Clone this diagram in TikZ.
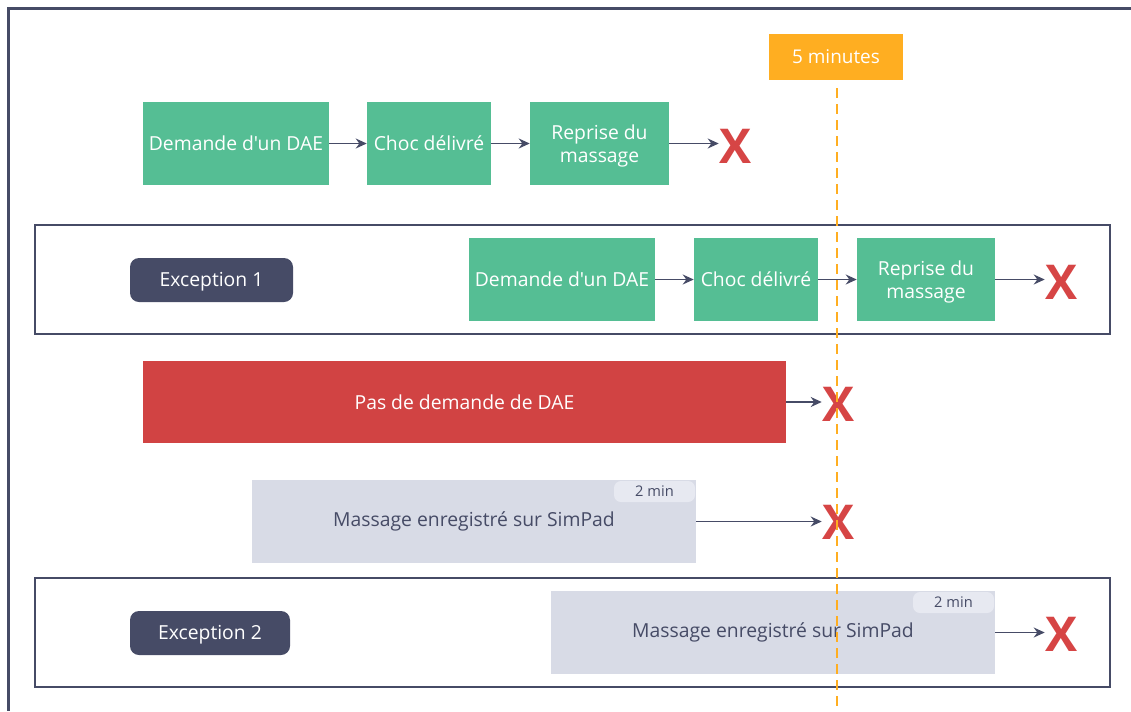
\documentclass[tikz,border=0pt]{standalone}
\usepackage{fontspec}
\setmainfont{Open Sans}[Ligatures=TeXOff]
\usetikzlibrary{arrows.meta}
\newlength\px
\setlength\px{0.75pt}
\definecolor{stepgreen}{HTML}{55BE94}
\definecolor{alertred}{HTML}{D14343}
\definecolor{crossred}{HTML}{D64545}
\definecolor{slatebg}{HTML}{D8DBE6}
\definecolor{pillbg}{HTML}{E7E9F1}
\definecolor{ink}{HTML}{464B66}
\definecolor{timeorange}{HTML}{FFAE21}
\tikzset{
  bodytext/.style={font=\fontsize{14.5}{17}\selectfont},
  stepbox/.style={fill=stepgreen, text=white, minimum height=83\px, align=center,
    bodytext, inner sep=0pt},
  twoline/.style={text depth=0pt},
  slatebox/.style={fill=slatebg, text=ink, minimum height=83\px, inner sep=0pt, bodytext},
  durpill/.style={fill=pillbg, text=ink, rounded corners=7\px, minimum width=81\px,
    minimum height=21\px, inner sep=0pt, font=\fontsize{11}{12}\selectfont},
  tagpill/.style={fill=ink, text=white, rounded corners=9\px, minimum height=44\px,
    inner sep=0pt, bodytext, text height=10.4pt, text depth=0pt},
  frame/.style={draw=ink, line width=2.5\px},
  flow/.style={draw=ink, line width=1.3\px, -{Stealth[length=8.25pt, width=7.5pt]}},
  cross/.style={text=crossred, inner sep=0pt, font=\bfseries\fontsize{36}{36}\selectfont},
  deadline/.style={draw=timeorange, line width=2.5\px, dash pattern=on 7.5pt off 4.5pt},
}
\begin{document}
\begin{tikzpicture}[x=\px, y=-\px]
\useasboundingbox (0,0) rectangle (1131,711);

% outer frame (only top and left edges fall inside the page)
\draw[frame, line width=3\px] (1131,8) -- (8,8) -- (8,711);

% time marker
\node[fill=timeorange, text=white, minimum width=134\px, minimum height=46\px, inner sep=0pt,
  font=\fontsize{14.2}{16}\selectfont] (five) at (836,57) {5 minutes};

% normal sequence
\node[stepbox, minimum width=186\px] (a1) at (236,143.5) {Demande d'un DAE};
\node[stepbox, minimum width=124\px] (a2) at (429,143.5) {Choc délivré};
\node[stepbox, twoline, minimum width=139\px] (a3) at (599.5,143.5) {Reprise du\\massage};
\node[cross] (ax) at (735,146) {X};
\draw[flow] (a1) -- (a2);
\draw[flow] (a2) -- (a3);
\draw[flow] (a3.east) -- (ax.west |- a3.east);

% exception 1
\draw[frame] (35,225) rectangle (1110,334);
\node[tagpill, minimum width=163\px] (e1) at (211.5,280) {Exception 1};
\node[stepbox, minimum width=186\px] (b1) at (562,279.5) {Demande d'un DAE};
\node[stepbox, minimum width=124\px] (b2) at (756,279.5) {Choc délivré};
\node[stepbox, twoline, minimum width=138\px] (b3) at (926,279.5) {Reprise du\\massage};
\node[cross] (bx) at (1061,282) {X};
\draw[flow] (b1) -- (b2);
\draw[flow] (b2) -- (b3);
\draw[flow] (b3.east) -- (bx.west |- b3.east);

% no AED request
\node[fill=alertred, text=white, minimum width=643\px, minimum height=82\px, inner sep=0pt,
  bodytext] (r) at (464.5,402) {Pas de demande de DAE};
\node[cross] (rx) at (838,404) {X};
\draw[flow] (r.east) -- (rx.west |- r.east);

% compressions only
\node[slatebox, minimum width=444\px] (g1) at (474,521.5) {Massage enregistré sur SimPad};
\node[durpill] (d1) at (654.5,491.5) {2 min};
\node[cross] (gx) at (838,522) {X};
\draw[flow] (g1.east) -- (gx.west |- g1.east);

% exception 2
\draw[frame] (35,578) rectangle (1110,687);
\node[tagpill, minimum width=160\px] (e2) at (210,633) {Exception 2};
\node[slatebox, minimum width=444\px] (g2) at (773,632.5) {Massage enregistré sur SimPad};
\node[durpill] (d2) at (953.5,602.5) {2 min};
\node[cross] (hx) at (1061,634) {X};
\draw[flow] (g2.east) -- (hx.west |- g2.east);

% five-minute limit
\coordinate (lineend) at (837,711);
\draw[deadline] (five.south) ++(1,8) -- (lineend);
\end{tikzpicture}
\end{document}
